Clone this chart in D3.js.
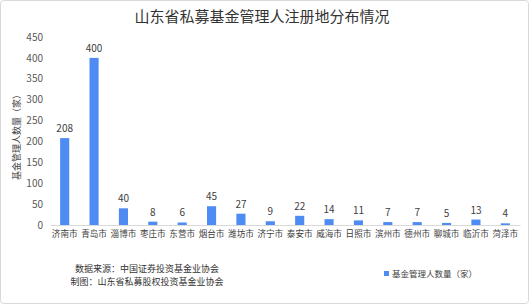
<!DOCTYPE html>
<html>
<head>
<meta charset="utf-8">
<script src="https://cdn.jsdelivr.net/npm/d3@7"></script>
<style>
  body { margin: 0; background: #fff; }
  svg text { font-family: "Noto Sans CJK SC", "Noto Sans", sans-serif; }
</style>
</head>
<body>
<svg class="chart"></svg>
<script>
// Categories and values.
var cities = ["济南市", "青岛市", "淄博市", "枣庄市", "东营市", "烟台市", "潍坊市", "济宁市",
    "泰安市", "威海市", "日照市", "滨州市", "德州市", "聊城市", "临沂市", "菏泽市"];
var counts = [208, 400, 40, 8, 6, 45, 27, 9, 22, 14, 11, 7, 7, 5, 13, 4];
var yTicks = [0, 50, 100, 150, 200, 250, 300, 350, 400, 450];

var width = 530,
    height = 305;

var data = cities.map(function (c, i) {
    return { city: c, value: counts[i] };
});

var svg = d3.select(".chart")
    .attr("width", width)
    .attr("height", height);

// Outer frame.
svg.append("rect")
    .attr("x", 0.5).attr("y", 0.5)
    .attr("width", width - 2).attr("height", height - 2)
    .attr("rx", 3)
    .attr("fill", "#fff")
    .attr("stroke", "#d9d9d9");

// Scales.
var x = d3.scaleBand()
    .domain(cities)
    .range([50, 520])
    .paddingInner(0.69)
    .paddingOuter(0.345);

var y = d3.scaleLinear()
    .domain([0, 450])
    .range([225, 37]);

// Title.
svg.append("text")
    .attr("x", 262)
    .attr("y", 22)
    .attr("text-anchor", "middle")
    .attr("font-size", 15)
    .attr("fill", "#333")
    .text("山东省私募基金管理人注册地分布情况");

// Y axis (labels only, no line).
var yAxis = svg.append("g")
    .attr("transform", "translate(50,0)")
    .call(d3.axisLeft(y).tickValues(yTicks).tickSize(0).tickPadding(7));
yAxis.select(".domain").remove();
yAxis.selectAll("text")
    .attr("font-size", 10)
    .attr("fill", "#595959")
    .style("font-family", "'Noto Sans CJK SC', sans-serif");

// Y axis title.
svg.append("text")
    .attr("transform", "translate(18,135) rotate(-90)")
    .attr("text-anchor", "middle")
    .attr("dominant-baseline", "middle")
    .attr("font-size", 9)
    .attr("fill", "#404040")
    .text("基金管理人数量（家）");

// X axis.
var xAxis = svg.append("g")
    .attr("transform", "translate(0,225)")
    .call(d3.axisBottom(x).tickSize(0).tickPadding(6));
xAxis.select(".domain")
    .attr("stroke", "#d9d9d9");
xAxis.selectAll("text")
    .attr("font-size", 8.6)
    .attr("fill", "#404040")
    .style("font-family", "'Noto Sans CJK SC', sans-serif");

// Bars.
svg.selectAll(".bar")
    .data(data)
    .enter()
    .append("rect")
    .attr("class", "bar")
    .attr("x", function (d) { return x(d.city); })
    .attr("width", x.bandwidth())
    .attr("y", function (d) { return y(d.value); })
    .attr("height", function (d) { return y(0) - y(d.value); })
    .attr("fill", "#4e8cf3");

// Value labels.
svg.selectAll(".val")
    .data(data)
    .enter()
    .append("text")
    .attr("class", "val")
    .attr("x", function (d) { return x(d.city) + x.bandwidth() / 2; })
    .attr("y", function (d) { return y(d.value) - 6; })
    .attr("text-anchor", "middle")
    .attr("font-size", 10)
    .attr("fill", "#404040")
    .text(function (d) { return d.value; });

// Source notes.
svg.append("text")
    .attr("x", 147).attr("y", 272)
    .attr("text-anchor", "middle")
    .attr("font-size", 9)
    .attr("fill", "#333")
    .text("数据来源：中国证券投资基金业协会");
svg.append("text")
    .attr("x", 147).attr("y", 285)
    .attr("text-anchor", "middle")
    .attr("font-size", 9)
    .attr("fill", "#333")
    .text("制图：山东省私募股权投资基金业协会");

// Legend.
svg.append("rect")
    .attr("x", 384).attr("y", 271)
    .attr("width", 5).attr("height", 5)
    .attr("fill", "#4e8cf3");
svg.append("text")
    .attr("x", 392).attr("y", 277)
    .attr("font-size", 8.5)
    .attr("fill", "#404040")
    .text("基金管理人数量（家）");
</script>
</body>
</html>
